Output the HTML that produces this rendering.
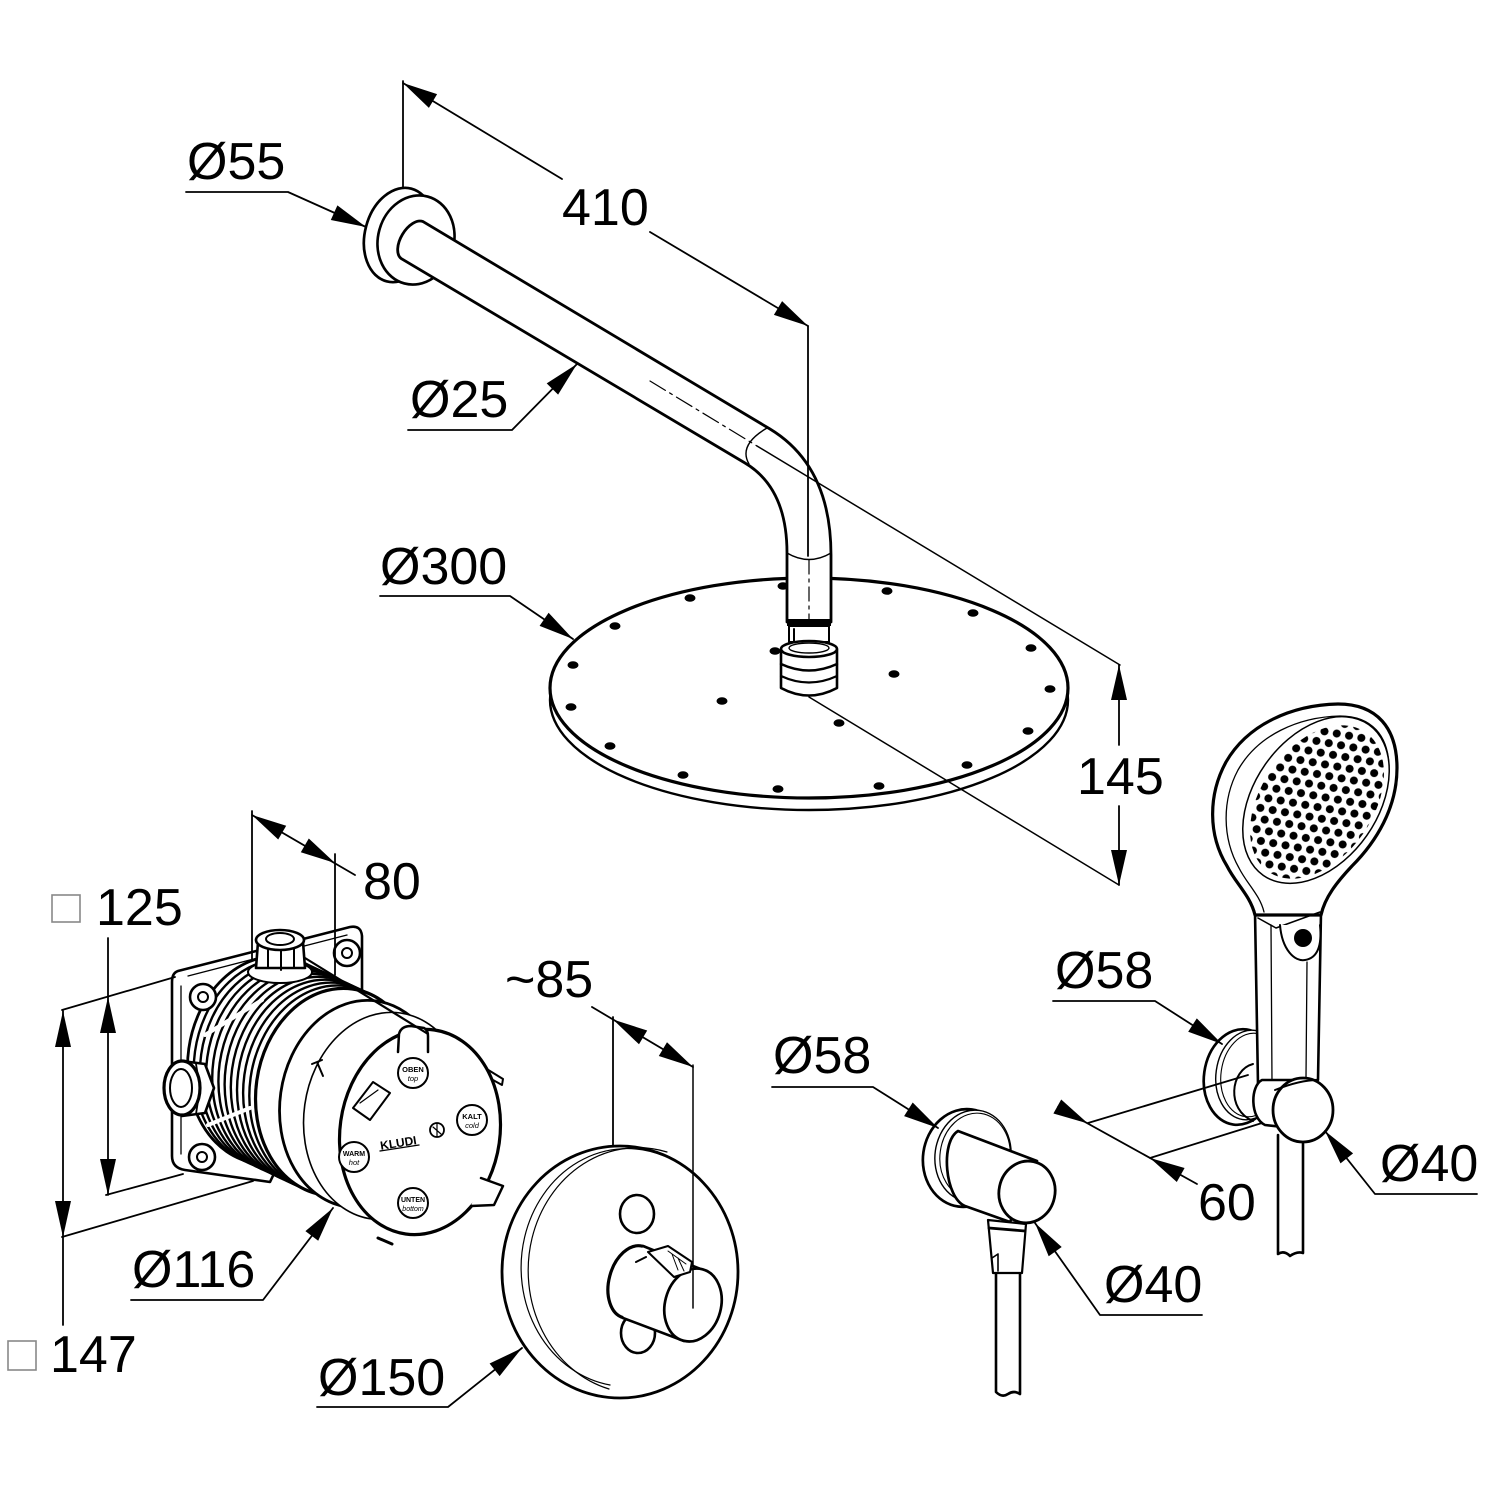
<!DOCTYPE html>
<html><head><meta charset="utf-8"><style>html,body{margin:0;padding:0;background:#fff}svg{display:block}</style></head>
<body>
<svg width="1500" height="1500" viewBox="0 0 1500 1500" xmlns="http://www.w3.org/2000/svg">
<defs>
<pattern id="dots" patternUnits="userSpaceOnUse" width="12.5" height="21.6" patternTransform="rotate(35)">
<circle cx="0" cy="0" r="4" fill="#000"/><circle cx="12.5" cy="0" r="4" fill="#000"/>
<circle cx="0" cy="21.6" r="4" fill="#000"/><circle cx="12.5" cy="21.6" r="4" fill="#000"/>
<circle cx="6.25" cy="10.8" r="4" fill="#000"/>
</pattern>
</defs>
<rect x="0" y="0" width="1500" height="1500" fill="#fff"/>

<g stroke="#000" stroke-linecap="round" stroke-linejoin="round">

<!-- ===== Rain shower head ===== -->
<ellipse cx="809" cy="700" rx="259" ry="110" fill="#fff" stroke-width="2.4"/>
<ellipse cx="809" cy="688" rx="259" ry="110" fill="#fff" stroke-width="3.2"/>
<g fill="#000" stroke="none">
<ellipse cx="690" cy="598" rx="5.5" ry="3.8"/><ellipse cx="783" cy="586" rx="5.5" ry="3.8"/>
<ellipse cx="887" cy="591" rx="5.5" ry="3.8"/><ellipse cx="973" cy="613" rx="5.5" ry="3.8"/>
<ellipse cx="1031" cy="648" rx="5.5" ry="3.8"/><ellipse cx="1050" cy="689" rx="5.5" ry="3.8"/>
<ellipse cx="1028" cy="731" rx="5.5" ry="3.8"/><ellipse cx="967" cy="765" rx="5.5" ry="3.8"/>
<ellipse cx="879" cy="786" rx="5.5" ry="3.8"/><ellipse cx="778" cy="789" rx="5.5" ry="3.8"/>
<ellipse cx="683" cy="775" rx="5.5" ry="3.8"/><ellipse cx="610" cy="746" rx="5.5" ry="3.8"/>
<ellipse cx="571" cy="707" rx="5.5" ry="3.8"/><ellipse cx="573" cy="665" rx="5.5" ry="3.8"/>
<ellipse cx="615" cy="626" rx="5.5" ry="3.8"/><ellipse cx="775" cy="651" rx="5.5" ry="3.8"/>
<ellipse cx="894" cy="674" rx="5.5" ry="3.8"/><ellipse cx="722" cy="701" rx="5.5" ry="3.8"/>
<ellipse cx="839" cy="723" rx="5.5" ry="3.8"/>
</g>

<!-- ===== Arm & flange ===== -->
<ellipse cx="399" cy="235" rx="34" ry="48" transform="rotate(15 399 235)" fill="#fff" stroke-width="2.7"/>
<ellipse cx="416" cy="240" rx="38" ry="45" transform="rotate(15 416 240)" fill="#fff" stroke-width="2.7"/>
<path d="M423,221.6 L770,429 Q831,466 831,555 L831,622 L787,622 L787,553 Q787,488 745,463 L401,258.4 A12,21.5 31 0 1 423,221.6 Z" fill="#fff" stroke-width="2.8"/>
<path d="M767,428 Q738,445 749,464" fill="none" stroke-width="1.4"/>
<path d="M787,553 Q809,566 831,553" fill="none" stroke-width="1.4"/>

<!-- connector -->
<rect x="787" y="619" width="44" height="7" fill="#000" stroke="none"/>
<rect x="789" y="626" width="40" height="16" fill="#fff" stroke-width="2"/>
<path d="M794,629 L794,641" fill="none" stroke-width="2"/>
<path d="M781,650 L781,688 Q809,703 837,688 L837,650 Z" fill="#fff" stroke-width="2.6"/>
<ellipse cx="809" cy="649" rx="28" ry="8" fill="#fff" stroke-width="2.6"/>
<ellipse cx="809" cy="648" rx="20" ry="5" fill="none" stroke-width="1.4"/>
<path d="M781,664 Q809,677 837,664" fill="none" stroke-width="2.4"/>
<path d="M781,676 Q809,689 837,676" fill="none" stroke-width="2.2"/>

<!-- ===== Mixer box (concealed body) ===== -->
<path d="M178,971 L350,927 Q361,925 362,936 L362,990 L270,1182 L185,1170 Q172,1168 172,1156 L172,982 Q172,973 178,971 Z" fill="#fff" stroke-width="2.6"/>
<path d="M181,986 L181,1154" fill="none" stroke-width="1.3"/>
<path d="M188,976 L347,935" fill="none" stroke-width="1.3"/>

<g fill="#fff" stroke-width="2.4">
<ellipse cx="270" cy="1060" rx="82" ry="104" transform="rotate(8 270 1060)" stroke-width="2.8"/>
<ellipse cx="276.2" cy="1062.9" rx="82" ry="104" transform="rotate(8 276.2 1062.9)"/>
<ellipse cx="282.4" cy="1065.8" rx="82" ry="104" transform="rotate(8 282.4 1065.8)"/>
<ellipse cx="288.5" cy="1068.7" rx="82" ry="104" transform="rotate(8 288.5 1068.7)"/>
<ellipse cx="294.7" cy="1071.6" rx="82" ry="104" transform="rotate(8 294.7 1071.6)"/>
<ellipse cx="300.9" cy="1074.5" rx="82" ry="104" transform="rotate(8 300.9 1074.5)"/>
<ellipse cx="307.1" cy="1077.5" rx="82" ry="104" transform="rotate(8 307.1 1077.5)"/>
<ellipse cx="313.3" cy="1080.4" rx="82" ry="104" transform="rotate(8 313.3 1080.4)"/>
<ellipse cx="319.5" cy="1083.3" rx="82" ry="104" transform="rotate(8 319.5 1083.3)"/>
<ellipse cx="325.6" cy="1086.2" rx="82" ry="104" transform="rotate(8 325.6 1086.2)"/>
<ellipse cx="331.8" cy="1089.1" rx="82" ry="104" transform="rotate(8 331.8 1089.1)"/>
<ellipse cx="338" cy="1092" rx="82" ry="104" transform="rotate(8 338 1092)" stroke-width="3.2"/>
<ellipse cx="362" cy="1104" rx="82" ry="104" transform="rotate(8 362 1104)" stroke-width="2.8"/>
<ellipse cx="386" cy="1116" rx="82" ry="104" transform="rotate(8 386 1116)" stroke-width="1.6"/>
</g>
<!-- rib cross bars -->
<path d="M205,1035 L262,1000 M208,1125 L250,1108" fill="none" stroke="#fff" stroke-width="4"/>
<path d="M312,1064 L322,1060 M317,1062 L323,1076" fill="none" stroke-width="2"/>

<!-- cap -->
<path d="M428,1033 L503,1079 L502,1085 L430,1045 Z" fill="#fff" stroke-width="2"/>
<ellipse cx="420" cy="1132" rx="80" ry="103" transform="rotate(8 420 1132)" fill="#fff" stroke-width="3.2"/>
<path d="M398,1052 L399,1034 Q401,1026 411,1026 L424,1028 Q428,1030 428,1036 L428,1052" fill="#fff" stroke-width="2.5"/>
<path d="M481,1178 L503,1186 L494,1205 L471,1206" fill="#fff" stroke-width="2.5"/>
<path d="M378,1238 L392,1244" fill="none" stroke-width="3"/>
<polygon points="373,1082 390,1093 370,1120 353,1108" fill="#fff" stroke-width="2"/>
<path d="M360,1103 L378,1090" fill="none" stroke-width="1.2"/>
<g fill="#fff" stroke-width="2">
<circle cx="413" cy="1073" r="15"/><circle cx="472" cy="1120" r="15"/>
<circle cx="354" cy="1157" r="15"/><circle cx="413" cy="1203" r="15"/>
<circle cx="437" cy="1130" r="7" stroke-width="1.8"/>
</g>
<path d="M380,1151 L419,1145" fill="none" stroke-width="1.3"/>
<path d="M433,1127 L441,1134 M437,1123 L437,1137" fill="none" stroke-width="1.2"/>

<!-- bosses -->
<g fill="#fff" stroke-width="2.6">
<circle cx="203" cy="997" r="13"/><circle cx="347" cy="953" r="13"/><circle cx="202" cy="1157" r="13"/>
<circle cx="203" cy="997" r="5" stroke-width="2"/><circle cx="347" cy="953" r="5" stroke-width="2"/><circle cx="202" cy="1157" r="5" stroke-width="2"/>
</g>
<!-- top nut -->
<ellipse cx="280" cy="972" rx="32" ry="11" fill="#fff" stroke-width="2"/>
<polygon points="258,942 303,942 305,968 256,968" fill="#fff" stroke-width="2.6"/>
<path d="M268,946 L268,968 M281,948 L281,970 M294,946 L294,968" fill="none" stroke-width="2"/>
<ellipse cx="280" cy="940" rx="24" ry="10" fill="#fff" stroke-width="2.6"/>
<ellipse cx="280" cy="939" rx="14" ry="6" fill="none" stroke-width="2"/>
<path d="M305,958 L428,1034" fill="none" stroke-width="2.2"/>
<!-- left nut -->
<polygon points="182,1061 205,1064 214,1088 205,1113 182,1116" fill="#fff" stroke-width="2.6"/>
<path d="M196,1064 L200,1088 L196,1114" fill="none" stroke-width="1.8"/>
<ellipse cx="182" cy="1088" rx="18" ry="27" fill="#fff" stroke-width="3.2"/>
<ellipse cx="181" cy="1088" rx="11" ry="19" fill="none" stroke-width="2"/>

<!-- ===== Trim plate ===== -->
<ellipse cx="620" cy="1272" rx="118" ry="126" fill="#fff" stroke-width="2.8"/>
<path d="M664,1156 A106,119 0 1 0 610,1385" fill="none" stroke-width="1.2"/>
<path d="M667,1152 A109,122 0 1 0 609,1389" fill="none" stroke-width="1.2"/>
<ellipse cx="637" cy="1214" rx="17" ry="19" fill="#fff" stroke-width="2.6"/>
<ellipse cx="638" cy="1333" rx="17" ry="20" fill="#fff" stroke-width="2.6"/>
<ellipse cx="633" cy="1282" rx="24" ry="37" transform="rotate(15 633 1282)" fill="#fff" stroke-width="3.2"/>
<polygon points="643,1246 703,1270 684,1341 623,1318" fill="#fff" stroke="none"/>
<path d="M643,1246 L703,1270 M623,1318 L684,1341" fill="none" stroke-width="2.6"/>
<ellipse cx="693" cy="1305" rx="28" ry="37" transform="rotate(15 693 1305)" fill="#fff" stroke-width="2.7"/>
<path d="M648,1252 L668,1246 L692,1262 L690,1272 L674,1277 Z" fill="#fff" stroke-width="2"/>
<path d="M668,1251 L686,1264 M672,1254 L678,1270 M678,1258 L684,1271" fill="none" stroke-width="1"/>
<path d="M636,1262 L646,1257" fill="none" stroke-width="2"/>

<!-- ===== Wall outlet (middle) ===== -->
<ellipse cx="965" cy="1158" rx="42" ry="49" transform="rotate(8 965 1158)" fill="#fff" stroke-width="2.7"/>
<ellipse cx="973" cy="1156" rx="38" ry="46" transform="rotate(8 973 1156)" fill="#fff" stroke-width="1.4"/>
<ellipse cx="975" cy="1156" rx="35" ry="43" transform="rotate(8 975 1156)" fill="none" stroke-width="1.1"/>
<path d="M958,1131 L1037,1161 L1010,1222 L965,1206 C945,1198 940,1142 958,1131 Z" fill="#fff" stroke-width="2.7"/>
<path d="M996,1273 L996,1392 Q1002,1398 1008,1394 Q1014,1390 1020,1394 L1020,1273" fill="#fff" stroke-width="2.6"/>
<path d="M988,1220 L1026,1224 L1022,1273 L993,1273 Z" fill="#fff" stroke-width="2.2"/>
<path d="M989,1228 L1025,1231" fill="none" stroke-width="2.8"/>
<path d="M992,1258 L998,1254 L998,1271" fill="none" stroke-width="1.6"/>
<ellipse cx="1027" cy="1192" rx="28" ry="31" transform="rotate(12 1027 1192)" fill="#fff" stroke-width="2.8"/>

<!-- ===== Hand shower ===== -->
<ellipse cx="1240" cy="1077" rx="36" ry="48" transform="rotate(8 1240 1077)" fill="#fff" stroke-width="2.7"/>
<ellipse cx="1249" cy="1075" rx="33" ry="45" transform="rotate(8 1249 1075)" fill="#fff" stroke-width="1.4"/>
<ellipse cx="1251" cy="1075" rx="30" ry="42" transform="rotate(8 1251 1075)" fill="none" stroke-width="1.1"/>
<path d="M1253,1064 C1230,1070 1226,1110 1253,1121" fill="none" stroke-width="2"/>
<path d="M1278,1135 L1278,1254 Q1284,1250 1290,1256 Q1297,1251 1303,1253 L1303,1135" fill="#fff" stroke-width="2.6"/>
<path d="M1255,912 L1258,1085 L1318,1080 L1321,912 Z" fill="#fff" stroke-width="2.6"/>
<path d="M1271,925 L1272,1082" fill="none" stroke-width="1.3"/>
<path d="M1307,962 L1306,1078" fill="none" stroke-width="1.3"/>
<path d="M1255,915 C1250,895 1236,884 1227,866 C1208,835 1208,795 1226,762 C1248,724 1292,705 1338,704 C1377,704 1397,728 1397,768 C1397,808 1376,842 1352,866 C1337,882 1325,897 1321,915 Z" fill="#fff" stroke-width="3.2"/>
<path d="M1264,912 C1260,895 1247,884 1239,868 C1222,838 1222,800 1238,770 C1258,735 1298,717 1340,716 C1372,716 1388,736 1389,766" fill="none" stroke-width="1.3"/>
<ellipse cx="1316" cy="800" rx="62" ry="92" transform="rotate(35 1316 800)" fill="#fff" stroke-width="1.5"/>
<ellipse cx="1317" cy="802" rx="56" ry="85" transform="rotate(35 1317 802)" fill="url(#dots)" stroke="none"/>
<path d="M1258,918 L1276,928 L1320,912" fill="none" stroke-width="1.5"/>
<path d="M1280,925 C1282,950 1295,962 1305,960 C1318,958 1322,945 1320,925" fill="#fff" stroke-width="2"/>
<circle cx="1303" cy="938" r="9" fill="#000" stroke="none"/>
<path d="M1262,1080 C1250,1086 1250,1118 1265,1125 L1292,1128 L1292,1080 Z" fill="#fff" stroke-width="2.6"/>
<ellipse cx="1303" cy="1110" rx="30" ry="32" fill="#fff" stroke-width="2.8"/>
<path d="M1275,1090 Q1300,1080 1318,1080" fill="none" stroke-width="2"/>

<!-- ===== Dimension lines ===== -->
<g fill="none" stroke-width="1.8">
<line x1="403" y1="81" x2="403" y2="188"/>
<line x1="403" y1="83" x2="562" y2="179"/>
<line x1="650" y1="232" x2="808" y2="326"/>
<line x1="808" y1="326" x2="808" y2="556"/>
<line x1="650" y1="381" x2="757" y2="446" stroke-width="1.2" stroke-dasharray="18 5 3 5"/>
<line x1="809" y1="560" x2="809" y2="620" stroke-width="1.2" stroke-dasharray="14 5 3 5"/>
<line x1="757" y1="446" x2="1120" y2="665" stroke-width="1.5"/>
<line x1="809" y1="697" x2="1119" y2="885" stroke-width="1.5"/>
<line x1="1119" y1="665" x2="1119" y2="745"/>
<line x1="1119" y1="806" x2="1119" y2="885"/>
<polyline points="186,192 288,192 366,227"/>
<polyline points="408,430 512,430 577,364"/>
<polyline points="380,596 510,596 573,639"/>
<line x1="252" y1="811" x2="252" y2="960"/>
<line x1="335" y1="854" x2="335" y2="975"/>
<line x1="252" y1="815" x2="355" y2="875"/>
<line x1="108" y1="938" x2="108" y2="1195"/>
<line x1="62" y1="1010" x2="175" y2="977"/>
<line x1="106" y1="1195" x2="183" y2="1174"/>
<line x1="63" y1="1011" x2="63" y2="1325"/>
<line x1="62" y1="1237" x2="253" y2="1181"/>
<polyline points="131,1300 263,1300 333,1208"/>
<line x1="613" y1="1017" x2="613" y2="1146"/>
<line x1="693" y1="1065" x2="693" y2="1308" stroke-width="1.5"/>
<line x1="592" y1="1007" x2="693" y2="1067"/>
<polyline points="317,1407 448,1407 522,1348"/>
<polyline points="772,1087 873,1087 938,1128"/>
<polyline points="1202,1315 1100,1315 1035,1223"/>
<polyline points="1053,1001 1155,1001 1222,1044"/>
<polyline points="1477,1194 1375,1194 1325,1131"/>
<line x1="1248" y1="1075" x2="1088" y2="1123"/>
<line x1="1262" y1="1123" x2="1150" y2="1158"/>
<line x1="1058" y1="1107" x2="1197" y2="1184"/>
</g>
</g>

<!-- arrowheads -->
<g fill="#000" stroke="none">
<polygon points="403,83 437.1,94.1 428.9,107.9"/>
<polygon points="808,326 773.9,314.9 782.1,301.1"/>
<polygon points="366,227 330.8,220 337.4,205.4"/>
<polygon points="577,364 558.1,394.6 546.7,383.4"/>
<polygon points="573,639 539.6,625.9 548.6,612.7"/>
<polygon points="1119,665 1111,700 1127,700"/>
<polygon points="1119,885 1111,850 1127,850"/>
<polygon points="252,815 286.2,825.7 278.2,839.5"/>
<polygon points="335,863 300.8,852.3 308.8,838.5"/>
<polygon points="108,997 100,1033 116,1033"/>
<polygon points="108,1195 100,1159 116,1159"/>
<polygon points="63,1011 55,1047 71,1047"/>
<polygon points="63,1237 55,1201 71,1201"/>
<polygon points="333,1208 318.2,1240.7 305.4,1231.1"/>
<polygon points="613,1019.5 647.2,1030.5 639,1044.3"/>
<polygon points="693,1067 658.8,1056 667,1042.2"/>
<polygon points="522,1348 499.6,1376.1 489.6,1363.5"/>
<polygon points="938,1128 904.1,1116.1 912.7,1102.5"/>
<polygon points="1035,1223 1061.7,1247 1048.7,1256.2"/>
<polygon points="1222,1044 1188.2,1031.8 1196.8,1018.4"/>
<polygon points="1325,1131 1353.1,1153.4 1340.5,1163.4"/>
<polygon points="1088,1123.5 1053.4,1113.5 1061.2,1099.5"/>
<polygon points="1150,1158 1184.6,1168 1176.8,1182"/>
</g>

<!-- square symbols -->
<rect x="52" y="895" width="28" height="27" fill="none" stroke="#888" stroke-width="1.6"/>
<rect x="8" y="1341" width="28" height="29" fill="none" stroke="#888" stroke-width="1.6"/>

<!-- labels -->
<g font-family="'Liberation Sans', Arial, sans-serif" font-size="52" fill="#000">
<text x="187" y="179">Ø55</text>
<text x="562" y="225">410</text>
<text x="410" y="417">Ø25</text>
<text x="380" y="584">Ø300</text>
<text x="1077" y="794">145</text>
<text x="363" y="899">80</text>
<text x="96" y="925">125</text>
<text x="505" y="997">~85</text>
<text x="1055" y="988">Ø58</text>
<text x="773" y="1073">Ø58</text>
<text x="132" y="1287">Ø116</text>
<text x="1104" y="1302">Ø40</text>
<text x="1198" y="1220">60</text>
<text x="1380" y="1181">Ø40</text>
<text x="50" y="1372">147</text>
<text x="318" y="1395">Ø150</text>
</g>

<!-- small cap texts -->
<g font-family="'Liberation Sans', Arial, sans-serif" fill="#000" text-anchor="middle">
<text x="413" y="1072" font-size="7.5" font-weight="bold">OBEN</text>
<text x="413" y="1081" font-size="7.5" font-style="italic">top</text>
<text x="472" y="1119" font-size="7.5" font-weight="bold">KALT</text>
<text x="472" y="1128" font-size="7.5" font-style="italic">cold</text>
<text x="354" y="1156" font-size="7" font-weight="bold">WARM</text>
<text x="354" y="1165" font-size="7.5" font-style="italic">hot</text>
<text x="413" y="1202" font-size="7" font-weight="bold">UNTEN</text>
<text x="413" y="1211" font-size="7" font-style="italic">bottom</text>
<text x="399" y="1147" font-size="12" font-weight="bold" transform="rotate(-9 399 1147)">KLUDI</text>
</g>
</svg>
</body></html>
